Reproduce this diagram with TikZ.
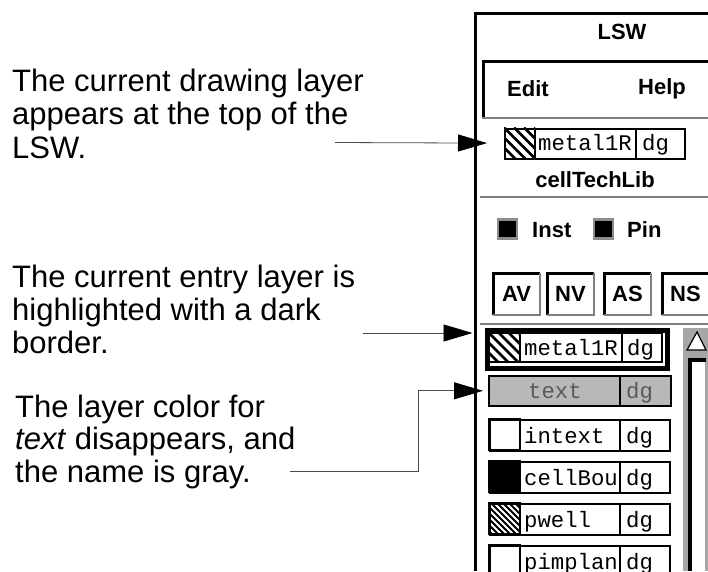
\documentclass[tikz,border=0pt]{standalone}
\usepackage{fontspec}
\setmainfont{Liberation Sans}
\newfontfamily\layerfont{Liberation Mono}
\usetikzlibrary{arrows.meta,positioning}

% diagonal stripes of a layer swatch: x1, y1, x2, y2, step, width
\newcommand\swatchhatch[6]{%
  \begin{scope}
    \clip (#1,#2) rectangle (#3,#4);
    \foreach \k in {0,...,12}
      \draw[line width=#6] (#1-40+\k*#5,#2) -- ++(40,40);
  \end{scope}}

\begin{document}
\begin{tikzpicture}[
    x=1pt, y=-1pt,
    >={Triangle[length=29pt,width=17pt,color=black]},
    callout/.style={->, draw=black!70, line width=0.8pt},
    note/.style={align=left, anchor=north west, inner sep=0pt, font=\fontsize{31}{33.5}\selectfont},
    win/.style={line width=3pt},
    stipple/.style={draw=black!50, line width=2pt},
    menu/.style={inner sep=0pt, font=\bfseries\fontsize{22}{24}\selectfont},
    mono/.style={inner sep=0pt, anchor=base west, font=\layerfont\fontsize{22.3}{24}\selectfont},
    btn/.style={menu, draw, line width=1pt, anchor=north west, minimum width=46pt, minimum height=41pt},
    chk/.style={fill=black, draw=black!45, line width=2.5pt, minimum size=19pt, inner sep=0pt},
    layerrow/.style={draw, line width=1.6pt, anchor=north west, inner sep=0pt, minimum width=180pt, minimum height=31pt}
  ]
    \useasboundingbox (0,0) rectangle (708,571);

    \node[note] (drawnote) at (12,68.5) {The current drawing layer\\appears at the top of the\\LSW.};
    \node[note, font=\fontsize{31}{33}\selectfont] (entrynote) at (12,264.5) {The current entry layer is\\highlighted with a dark\\border.};
    \node[note, font=\fontsize{31}{32.5}\selectfont] (graynote) at (15,394.5) {The layer color for\\\textit{text} disappears, and\\the name is gray.};

    \begin{scope}
      \clip (0,0) rectangle (708,571);
      % window frame and menu bar
      \draw[win] (475,571) -- (475,13) -- (708,13);
      \node[menu] (lsw) at (622,32) {LSW};
      \draw[win] (483.5,118) -- (483.5,61.5) -- (708,61.5);
      \draw[stipple] (482,118) -- (708,118);
      \node[menu] (edit) at (528,89) {Edit};
      \node[menu] (help) at (662,89) {Help};

      % current drawing layer
      \swatchhatch{504}{127.5}{535}{157.5}{10}{2.5pt}
      \node[layerrow, line width=2pt, minimum width=180pt, minimum height=30pt] (curlayer) at (504,127.5) {};
      \draw[line width=1.5pt] (535,127.5) -- (535,157.5) (636,127.5) -- (636,157.5);
      \node[mono] (curname) at (538,150) {metal1R};
      \node[mono] (curdg) at (642,150) {dg};
      \node[menu] (lib) at (595,180) {cellTechLib};
      \draw[stipple] (480,197) -- (708,197);

      % Inst / Pin
      \node[chk] (instbox) at (507.5,229) {};
      \node[menu, anchor=west] (inst) at (532,230) {Inst};
      \node[chk] (pinbox) at (603.5,229) {};
      \node[menu, anchor=west] (pin) at (627,230) {Pin};

      % AV NV AS NS
      \foreach \lab/\xx in {AV/493, NV/547, AS/604, NS/662} {
        \node[btn] (\lab) at (\xx,273) {\lab};
        \draw[line width=3pt] (\lab.south west) |- (\lab.north east);
        \draw[stipple] (\lab.south west) -| (\lab.north east);
      }
      \draw[stipple] (480,324) -- (708,324);

      % entry layer
      \node[draw, line width=5pt, anchor=north west, inner sep=0pt, minimum width=180pt, minimum height=38pt] (entrysel) at (484.5,327.5) {};
      \swatchhatch{489}{333}{520}{362}{10}{2.5pt}
      \draw[line width=1.2pt] (489,333) rectangle (662,362) (520,333) -- (520,362) (622,333) -- (622,362);
      \node[mono] (entryname) at (524,355) {metal1R};
      \node[mono] (entrydg) at (627,355) {dg};

      % text layer, grayed out
      \node[layerrow, fill=black!28, minimum width=182pt, minimum height=30pt] (textrow) at (488,375) {};
      \draw[line width=1.2pt] (620,375) -- (620,405);
      \node[mono, text=black!65] (textname) at (528,398) {text};
      \node[mono, text=black!65] (textdg) at (626,398) {dg};

      % remaining layers
      \fill (489,461) rectangle (520,492);
      \swatchhatch{489}{503}{520}{534}{6}{1.8pt}
      \foreach \nm/\yy in {intext/419, cellBou/461, pwell/503, pimplan/545} {
        \node[layerrow] (\nm) at (489,\yy) {};
        \draw[line width=1.6pt] (489,\yy) rectangle (520,\yy+31) (620,\yy) -- (620,\yy+31);
        \node[mono] (\nm-name) at (524,\yy+24) {\nm};
        \node[mono] (\nm-dg) at (626,\yy+24) {dg};
      }

      % scroll bar
      \fill[black!35] (683,328) rectangle (708,571);
      \fill[white] (691,358) rectangle (705,571);
      \draw[line width=4pt] (690,571) -- (690,359.5) -- (706,359.5);
      \draw[fill=white, line width=1.2pt] (697,332) -- (687,350) -- (706,350) -- cycle;
    \end{scope}

    \coordinate (a1) at (335,142.5);
    \coordinate (a2) at (363,333);
    \coordinate (a3) at (290,471);
    \draw[callout, shorten >=17pt] (a1) -- (curlayer);
    \draw[callout, shorten >=12pt] (a2) -- (a2 -| entrysel.west);
    \draw[callout, shorten >=5pt] (a3) -- ++(128,0) |- (textrow.west);
  \end{tikzpicture}
\end{document}
